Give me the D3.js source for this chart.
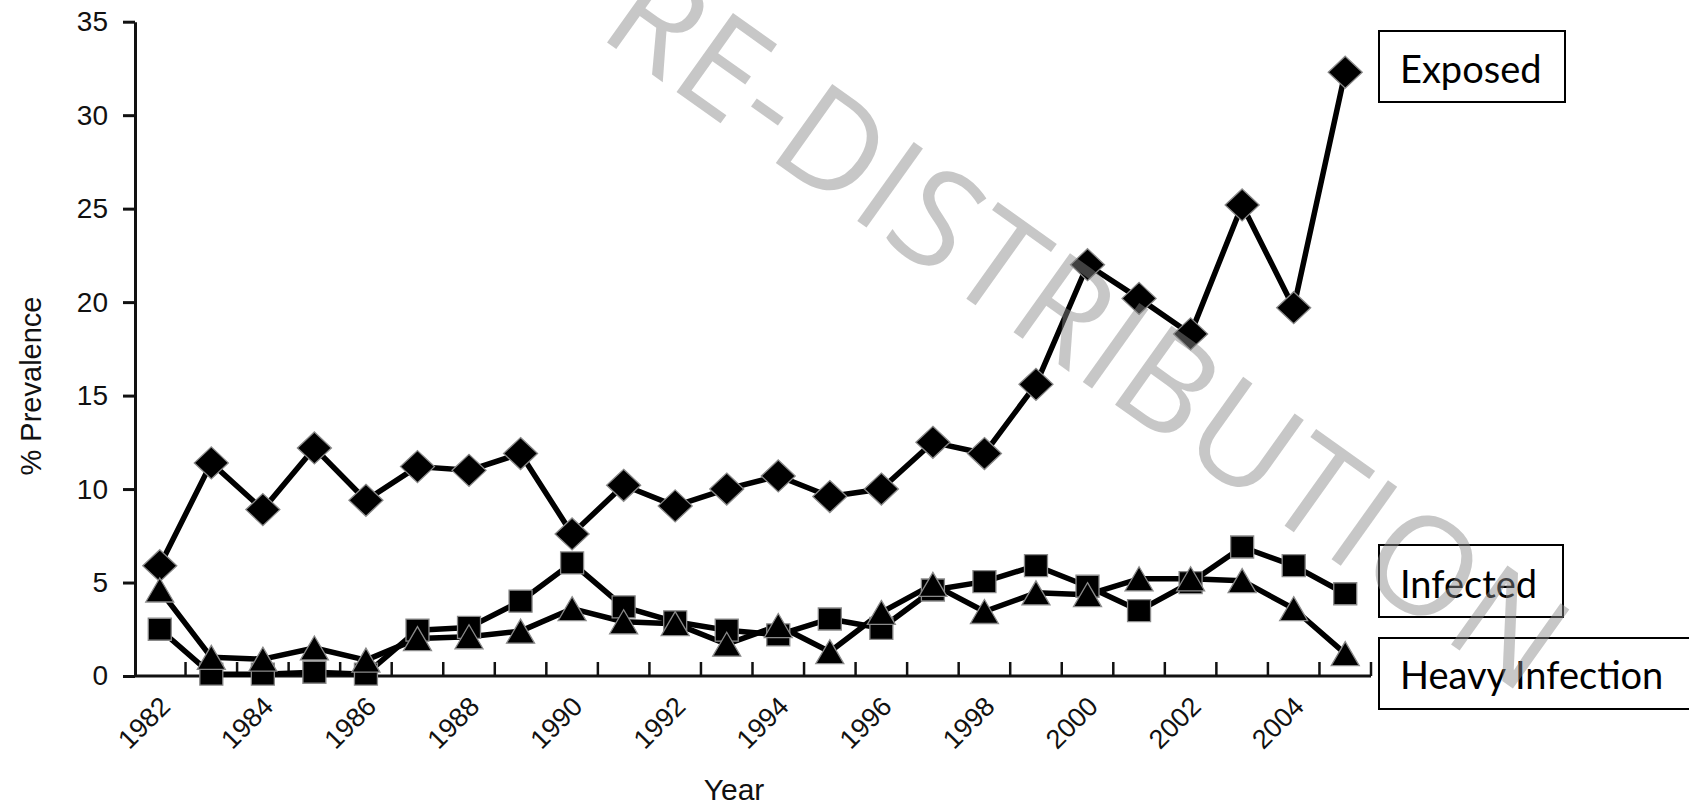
<!DOCTYPE html>
<html>
<head>
<meta charset="utf-8">
<script src="https://cdnjs.cloudflare.com/ajax/libs/d3/7.8.5/d3.min.js"></script>
<style>
  html, body { margin: 0; padding: 0; background: #fff; }
  svg { display: block; }
</style>
</head>
<body>
<div class="chart-panel"></div>
<script>
const years = [1982, 1983, 1984, 1985, 1986, 1987, 1988, 1989, 1990, 1991, 1992, 1993,
  1994, 1995, 1996, 1997, 1998, 1999, 2000, 2001, 2002, 2003, 2004, 2005]
const exposed = [5.9, 11.4, 8.9, 12.2, 9.4, 11.2, 11.0, 11.9, 7.6, 10.2, 9.1, 10.0,
  10.7, 9.6, 10.0, 12.5, 11.9, 15.6, 22.0, 20.2, 18.3, 25.2, 19.7, 32.3]
const infected = [2.5, 0.1, 0.1, 0.2, 0.1, 2.45, 2.6, 4.0, 6.05, 3.7, 2.9, 2.45,
  2.2, 3.05, 2.55, 4.6, 5.05, 5.9, 4.8, 3.5, 5.0, 6.9, 5.9, 4.4]
const heavy = [4.6, 1.0, 0.9, 1.5, 0.85, 2.0, 2.1, 2.4, 3.6, 2.9, 2.8, 1.7,
  2.7, 1.3, 3.4, 4.9, 3.45, 4.45, 4.35, 5.2, 5.2, 5.1, 3.6, 1.2]
const yTicks = [0, 5, 10, 15, 20, 25, 30, 35]
const labelYears = [1982, 1984, 1986, 1988, 1990, 1992, 1994, 1996, 1998, 2000, 2002, 2004]
const seriesNames = ['Exposed', 'Infected', 'Heavy Infection']

const width = 1689
const height = 805
const axisFont = '"Liberation Sans", Arial, Helvetica, sans-serif'

const svg = d3.select('.chart-panel').append('svg')
  .attr('width', width)
  .attr('height', height)

svg.append('rect').attr('width', width).attr('height', height).attr('fill', '#fff')

const x = d3.scaleBand()
  .domain(years)
  .range([134, 1371])
  .paddingInner(0)
  .paddingOuter(0)

const y = d3.scaleLinear()
  .domain([0, 35])
  .range([676, 21.7])

const cx = function (yr) { return x(yr) + x.bandwidth() / 2 }

// x axis: baseline, inward ticks at the band edges, rotated labels every 2 years
const gx = svg.append('g').attr('class', 'axis axis--x')
gx.append('line')
  .attr('x1', 135).attr('x2', x.range()[1])
  .attr('y1', y(0)).attr('y2', y(0))
  .attr('stroke', '#111').attr('stroke-width', 3)
gx.selectAll('.tick')
  .data(years)
  .enter().append('line')
    .attr('class', 'tick')
    .attr('x1', function (d) { return x(d) + x.bandwidth() })
    .attr('x2', function (d) { return x(d) + x.bandwidth() })
    .attr('y1', y(0)).attr('y2', y(0) - 14)
    .attr('stroke', '#111').attr('stroke-width', 2.5)
gx.selectAll('.lbl')
  .data(labelYears)
  .enter().append('text')
    .attr('class', 'lbl')
    .attr('transform', function (d) { return 'translate(' + (cx(d) + 12) + ',' + (y(0) + 32) + ') rotate(-45)' })
    .attr('text-anchor', 'end')
    .style('font-family', axisFont)
    .style('font-size', '27px')
    .attr('fill', '#111')
    .text(function (d) { return d })

// y axis
const gy = svg.append('g')
  .attr('class', 'axis axis--y')
  .attr('transform', 'translate(135,0)')
  .call(d3.axisLeft(y).tickValues(yTicks).tickSize(12).tickPadding(15).tickSizeOuter(0))
gy.select('.domain').attr('stroke', '#111').attr('stroke-width', 3)
gy.selectAll('.tick line').attr('stroke', '#111').attr('stroke-width', 3)
gy.selectAll('.tick text')
  .style('font-family', axisFont)
  .style('font-size', '28px')
  .attr('fill', '#111')

svg.append('text')
  .attr('transform', 'translate(41,386) rotate(-90)')
  .attr('text-anchor', 'middle')
  .style('font-family', axisFont)
  .style('font-size', '29px')
  .attr('fill', '#111')
  .text('% Prevalence')

svg.append('text')
  .attr('x', 734).attr('y', 800)
  .attr('text-anchor', 'middle')
  .style('font-family', axisFont)
  .style('font-size', '30px')
  .attr('fill', '#111')
  .text('Year')

// series
const shapes = {
  Exposed: 'M0,-16L17,0L0,16L-17,0Z',
  Infected: 'M-11.5,-11H11.5V11H-11.5Z',
  'Heavy Infection': 'M0,-12L14,12H-14Z'
}
const series = [
  { id: seriesNames[0], values: exposed },
  { id: seriesNames[1], values: infected },
  { id: seriesNames[2], values: heavy }
]

const line = d3.line()
  .curve(d3.curveLinear)
  .x(function (d, i) { return cx(years[i]) })
  .y(function (d) { return y(d) })

const g = svg.append('g')
series.forEach(function (s) {
  g.append('path')
    .attr('d', line(s.values))
    .attr('fill', 'none')
    .attr('stroke', '#000')
    .attr('stroke-width', 5.5)
    .attr('stroke-linejoin', 'round')
})
series.forEach(function (s) {
  g.selectAll(null)
    .data(s.values)
    .enter().append('path')
      .attr('d', shapes[s.id])
      .attr('transform', function (d, i) { return 'translate(' + cx(years[i]) + ',' + y(d) + ')' })
      .attr('fill', '#000')
      .attr('stroke', '#8a8a8a')
      .attr('stroke-width', 1.3)
})

// legend boxes
const boxes = [
  { name: seriesNames[0], x: 1379, y: 31, w: 186, h: 71, base: 83 },
  { name: seriesNames[1], x: 1379, y: 545, w: 184, h: 72, base: 598 },
  { name: seriesNames[2], x: 1379, y: 638, w: 330, h: 71, base: 689 }
]
const lg = svg.append('g').attr('class', 'legend')
lg.selectAll('rect')
  .data(boxes)
  .enter().append('rect')
    .attr('x', function (d) { return d.x })
    .attr('y', function (d) { return d.y })
    .attr('width', function (d) { return d.w })
    .attr('height', function (d) { return d.h })
    .attr('fill', '#fff')
    .attr('stroke', '#000')
    .attr('stroke-width', 2)
lg.selectAll('text')
  .data(boxes)
  .enter().append('text')
    .attr('x', function (d) { return d.x + 21 })
    .attr('y', function (d) { return d.base })
    .style('font-family', 'Lato, "Open Sans", sans-serif')
    .style('font-size', '38px')
    .attr('fill', '#000')
    .text(function (d) { return d.name })

// watermark on top
const ang = 35.5
const rad = ang * Math.PI / 180
const ox = 606 - 12 * Math.cos(rad)
const oy = 41.7 - 12 * Math.sin(rad)
svg.append('text')
  .attr('transform', 'translate(' + ox + ',' + oy + ') rotate(' + ang + ')')
  .attr('fill', '#888')
  .attr('fill-opacity', 0.47)
  .attr('textLength', 1139)
  .attr('lengthAdjust', 'spacing')
  .style('font-family', '"Open Sans", sans-serif')
  .style('font-size', '136px')
  .text('RE-DISTRIBUTION')
</script>
</body>
</html>
